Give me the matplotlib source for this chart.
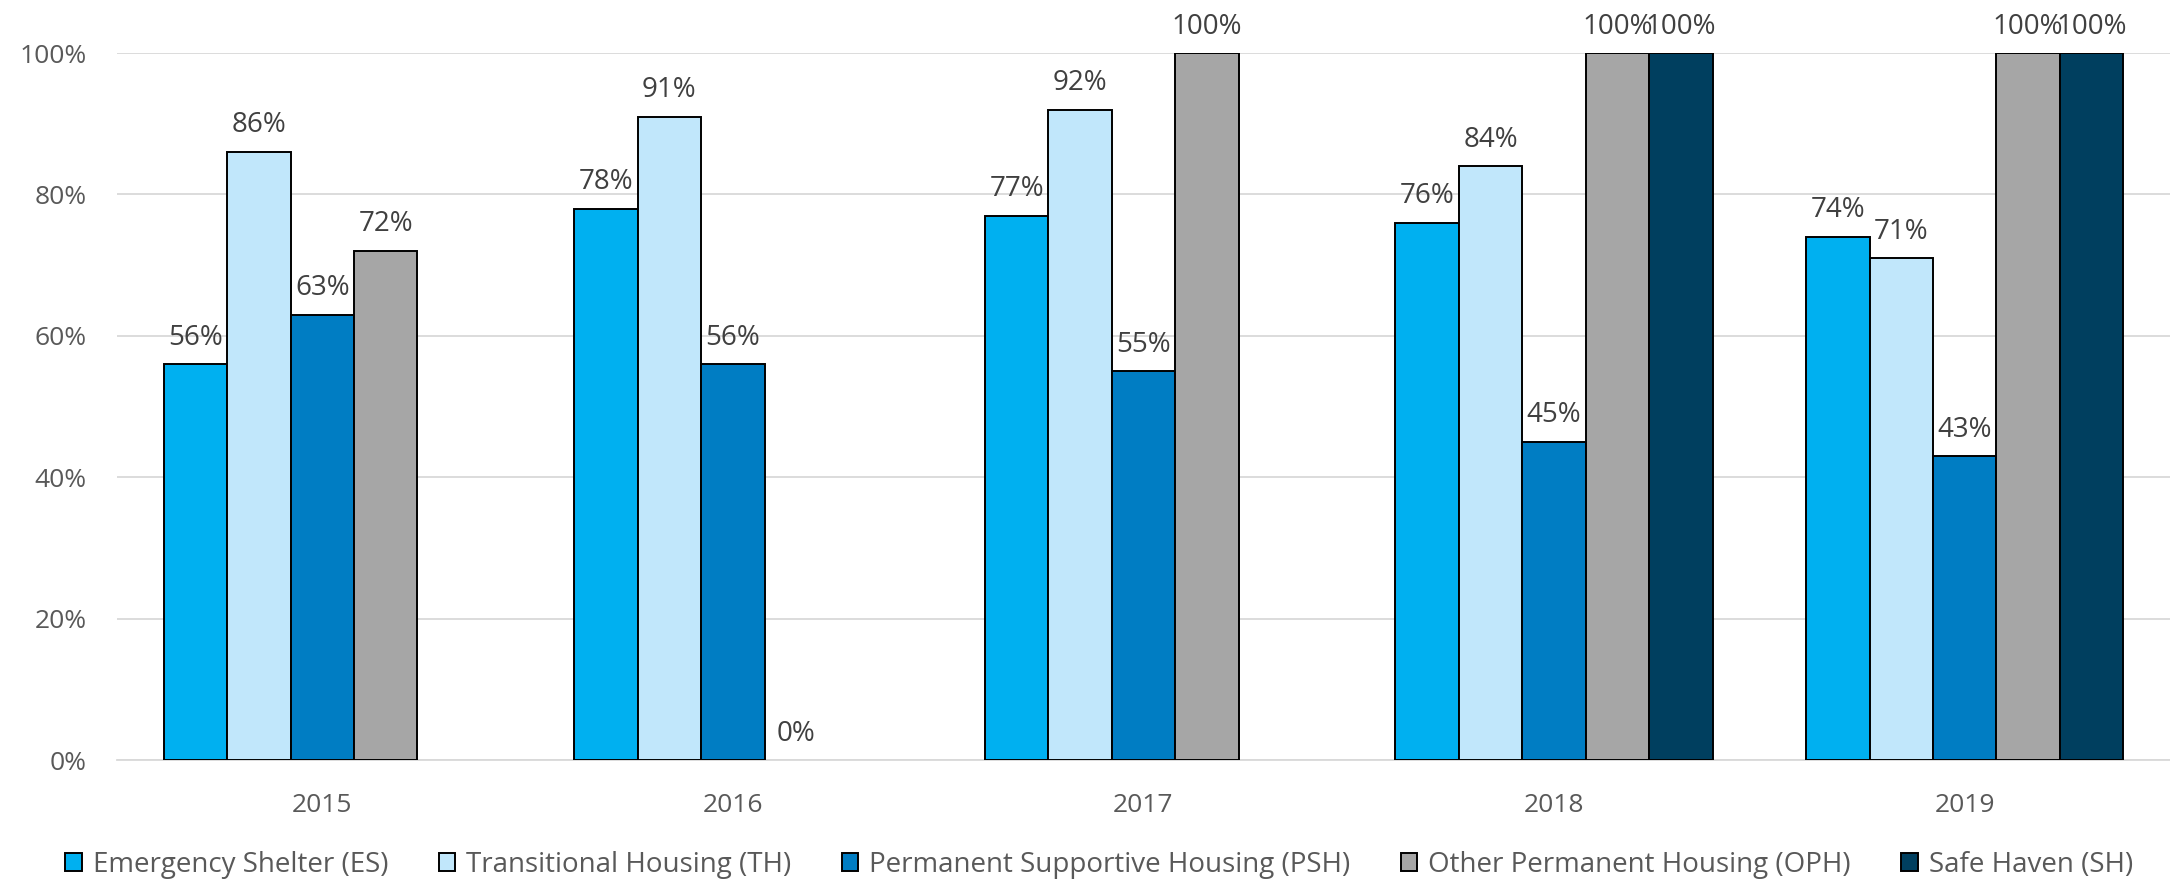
import numpy as np
import matplotlib
matplotlib.use("Agg")
import matplotlib.pyplot as plt
from matplotlib.patches import Patch

plt.rcParams['font.family'] = ['Open Sans', 'DejaVu Sans']

years = ['2015', '2016', '2017', '2018', '2019']
series = ['Emergency Shelter (ES)', 'Transitional Housing (TH)',
          'Permanent Supportive Housing (PSH)', 'Other Permanent Housing (OPH)',
          'Safe Haven (SH)']
es = [56, 78, 77, 76, 74]
th = [86, 91, 92, 84, 71]
psh = [63, 56, 55, 45, 43]
oph = [72, 0, 100, 100, 100]
sh = [np.nan, np.nan, np.nan, 100, 100]
colors = ['#00B0F0', '#C1E7FB', '#007DC3', '#A6A6A6', '#003F5F']

values = [es, th, psh, oph, sh]

fig = plt.figure(figsize=(21.7, 8.82), dpi=100)
ax = fig.add_axes([0.0539, 0.1383, 1.0 - 0.0539, 0.9399 - 0.1383])

x = np.arange(len(years))
w = 0.1545
for i, (vals, col) in enumerate(zip(values, colors)):
    pos = x + (i - 2) * w
    v = np.array(vals, dtype=float)
    ok = ~np.isnan(v)
    # zero-height bars get no outline (nothing visible in the original)
    lws = [1.4 if val > 0 else 0 for val in v[ok]]
    ax.bar(pos[ok], v[ok] / 100, width=w, color=col, edgecolor='black',
           linewidth=lws, zorder=3)
    for p, val in zip(pos[ok], v[ok]):
        ax.annotate('%d%%' % val, (p, val / 100), xytext=(0, 9),
                    textcoords='offset points', ha='center', va='bottom',
                    fontsize=20, color='#404040')

ax.set_xlim(-0.5, len(years) - 0.5)
ax.set_ylim(0, 1.0)
ax.set_yticks(np.arange(0, 1.01, 0.2))
ax.set_yticklabels(['%d%%' % t for t in range(0, 101, 20)])
ax.set_xticks(x)
ax.set_xticklabels(years)
ax.tick_params(axis='both', length=0, labelsize=19, colors='#595959')
ax.tick_params(axis='y', pad=22)
ax.tick_params(axis='x', pad=24)
ax.yaxis.grid(True, color='#D9D9D9', linewidth=1.3, zorder=0)
ax.set_axisbelow(True)
for s in ['top', 'right', 'left']:
    ax.spines[s].set_visible(False)
ax.spines['bottom'].set_color('#D9D9D9')
ax.spines['bottom'].set_linewidth(1.3)

handles = [Patch(facecolor=c, edgecolor='black', linewidth=1.4) for c in colors]
fig.legend(handles, series, loc='center', bbox_to_anchor=(0.5065, 1 - 865 / 882),
           ncol=5, frameon=False, fontsize=20, labelcolor='#595959',
           handlelength=0.6, handleheight=0.6, handletextpad=0.4,
           columnspacing=1.8, borderpad=0.1)

fig.savefig('out.png', dpi=100)
